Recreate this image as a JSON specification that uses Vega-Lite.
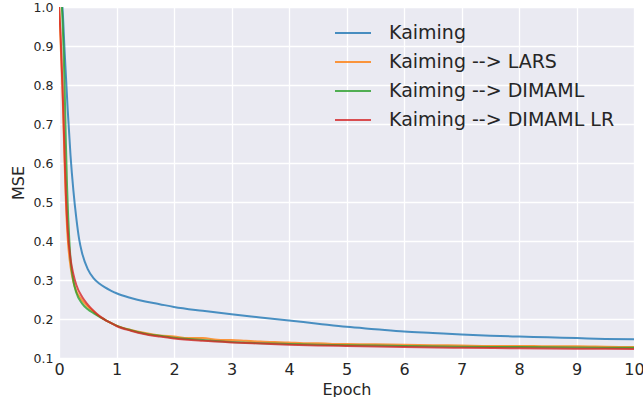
{
  "$schema": "https://vega.github.io/schema/vega-lite/v6.json",
  "autosize": {"type": "none"},
  "padding": {"left": 59, "top": 7, "right": 9, "bottom": 39},
  "width": 575,
  "height": 351,
  "background": "white",
  "config": {
    "font": "DejaVu Sans",
    "view": {"fill": "#EAEAF2", "stroke": null},
    "axis": {
      "domain": false,
      "ticks": false,
      "gridColor": "white",
      "gridWidth": 1.3,
      "gridOpacity": 1,
      "labelColor": "#262626",
      "titleColor": "#262626",
      "titleFontWeight": "normal",
      "labelFont": "DejaVu Sans",
      "titleFont": "DejaVu Sans"
    },
    "legend": {"labelFont": "DejaVu Sans"}
  },
  "data": {
    "values": [
      {"series": "Kaiming", "epoch": 0.03, "mse": 1.05},
      {"series": "Kaiming", "epoch": 0.06, "mse": 1.0},
      {"series": "Kaiming", "epoch": 0.1, "mse": 0.88},
      {"series": "Kaiming", "epoch": 0.15, "mse": 0.74},
      {"series": "Kaiming", "epoch": 0.2, "mse": 0.62},
      {"series": "Kaiming", "epoch": 0.25, "mse": 0.53},
      {"series": "Kaiming", "epoch": 0.3, "mse": 0.46},
      {"series": "Kaiming", "epoch": 0.35, "mse": 0.405},
      {"series": "Kaiming", "epoch": 0.4, "mse": 0.37},
      {"series": "Kaiming", "epoch": 0.5, "mse": 0.328},
      {"series": "Kaiming", "epoch": 0.6, "mse": 0.305},
      {"series": "Kaiming", "epoch": 0.7, "mse": 0.291},
      {"series": "Kaiming", "epoch": 0.8, "mse": 0.281},
      {"series": "Kaiming", "epoch": 0.9, "mse": 0.273},
      {"series": "Kaiming", "epoch": 1.0, "mse": 0.266},
      {"series": "Kaiming", "epoch": 1.25, "mse": 0.254},
      {"series": "Kaiming", "epoch": 1.5, "mse": 0.245},
      {"series": "Kaiming", "epoch": 1.75, "mse": 0.238},
      {"series": "Kaiming", "epoch": 2.0, "mse": 0.231},
      {"series": "Kaiming", "epoch": 2.5, "mse": 0.221},
      {"series": "Kaiming", "epoch": 3.0, "mse": 0.212},
      {"series": "Kaiming", "epoch": 3.5, "mse": 0.204},
      {"series": "Kaiming", "epoch": 4.0, "mse": 0.196},
      {"series": "Kaiming", "epoch": 4.5, "mse": 0.188},
      {"series": "Kaiming", "epoch": 5.0, "mse": 0.18},
      {"series": "Kaiming", "epoch": 5.5, "mse": 0.174},
      {"series": "Kaiming", "epoch": 6.0, "mse": 0.168},
      {"series": "Kaiming", "epoch": 6.5, "mse": 0.164},
      {"series": "Kaiming", "epoch": 7.0, "mse": 0.16},
      {"series": "Kaiming", "epoch": 7.5, "mse": 0.157},
      {"series": "Kaiming", "epoch": 8.0, "mse": 0.155},
      {"series": "Kaiming", "epoch": 8.5, "mse": 0.153},
      {"series": "Kaiming", "epoch": 9.0, "mse": 0.151},
      {"series": "Kaiming", "epoch": 9.5, "mse": 0.149},
      {"series": "Kaiming", "epoch": 10.0, "mse": 0.148},

      {"series": "Kaiming --> LARS", "epoch": 0.0, "mse": 1.02},
      {"series": "Kaiming --> LARS", "epoch": 0.03, "mse": 0.9},
      {"series": "Kaiming --> LARS", "epoch": 0.06, "mse": 0.79},
      {"series": "Kaiming --> LARS", "epoch": 0.08, "mse": 0.69},
      {"series": "Kaiming --> LARS", "epoch": 0.1, "mse": 0.59},
      {"series": "Kaiming --> LARS", "epoch": 0.12, "mse": 0.5},
      {"series": "Kaiming --> LARS", "epoch": 0.15, "mse": 0.41},
      {"series": "Kaiming --> LARS", "epoch": 0.2, "mse": 0.335},
      {"series": "Kaiming --> LARS", "epoch": 0.25, "mse": 0.295},
      {"series": "Kaiming --> LARS", "epoch": 0.3, "mse": 0.272},
      {"series": "Kaiming --> LARS", "epoch": 0.4, "mse": 0.248},
      {"series": "Kaiming --> LARS", "epoch": 0.5, "mse": 0.232},
      {"series": "Kaiming --> LARS", "epoch": 0.6, "mse": 0.219},
      {"series": "Kaiming --> LARS", "epoch": 0.7, "mse": 0.207},
      {"series": "Kaiming --> LARS", "epoch": 0.8, "mse": 0.198},
      {"series": "Kaiming --> LARS", "epoch": 0.9, "mse": 0.19},
      {"series": "Kaiming --> LARS", "epoch": 1.0, "mse": 0.183},
      {"series": "Kaiming --> LARS", "epoch": 1.25, "mse": 0.172},
      {"series": "Kaiming --> LARS", "epoch": 1.5, "mse": 0.164},
      {"series": "Kaiming --> LARS", "epoch": 1.75, "mse": 0.158},
      {"series": "Kaiming --> LARS", "epoch": 2.0, "mse": 0.155},
      {"series": "Kaiming --> LARS", "epoch": 2.25, "mse": 0.151},
      {"series": "Kaiming --> LARS", "epoch": 2.5, "mse": 0.151},
      {"series": "Kaiming --> LARS", "epoch": 2.75, "mse": 0.147},
      {"series": "Kaiming --> LARS", "epoch": 3.0, "mse": 0.146},
      {"series": "Kaiming --> LARS", "epoch": 3.25, "mse": 0.144},
      {"series": "Kaiming --> LARS", "epoch": 3.5, "mse": 0.142},
      {"series": "Kaiming --> LARS", "epoch": 3.75, "mse": 0.141},
      {"series": "Kaiming --> LARS", "epoch": 4.0, "mse": 0.14},
      {"series": "Kaiming --> LARS", "epoch": 4.25, "mse": 0.138},
      {"series": "Kaiming --> LARS", "epoch": 4.5, "mse": 0.138},
      {"series": "Kaiming --> LARS", "epoch": 4.75, "mse": 0.136},
      {"series": "Kaiming --> LARS", "epoch": 5.0, "mse": 0.136},
      {"series": "Kaiming --> LARS", "epoch": 5.5, "mse": 0.135},
      {"series": "Kaiming --> LARS", "epoch": 6.0, "mse": 0.134},
      {"series": "Kaiming --> LARS", "epoch": 6.5, "mse": 0.133},
      {"series": "Kaiming --> LARS", "epoch": 7.0, "mse": 0.132},
      {"series": "Kaiming --> LARS", "epoch": 7.5, "mse": 0.131},
      {"series": "Kaiming --> LARS", "epoch": 8.0, "mse": 0.131},
      {"series": "Kaiming --> LARS", "epoch": 8.5, "mse": 0.13},
      {"series": "Kaiming --> LARS", "epoch": 9.0, "mse": 0.13},
      {"series": "Kaiming --> LARS", "epoch": 9.5, "mse": 0.129},
      {"series": "Kaiming --> LARS", "epoch": 10.0, "mse": 0.128},

      {"series": "Kaiming --> DIMAML", "epoch": 0.03, "mse": 1.04},
      {"series": "Kaiming --> DIMAML", "epoch": 0.06, "mse": 0.97},
      {"series": "Kaiming --> DIMAML", "epoch": 0.08, "mse": 0.89},
      {"series": "Kaiming --> DIMAML", "epoch": 0.1, "mse": 0.78},
      {"series": "Kaiming --> DIMAML", "epoch": 0.12, "mse": 0.65},
      {"series": "Kaiming --> DIMAML", "epoch": 0.14, "mse": 0.54},
      {"series": "Kaiming --> DIMAML", "epoch": 0.16, "mse": 0.46},
      {"series": "Kaiming --> DIMAML", "epoch": 0.18, "mse": 0.4},
      {"series": "Kaiming --> DIMAML", "epoch": 0.2, "mse": 0.355},
      {"series": "Kaiming --> DIMAML", "epoch": 0.25, "mse": 0.298},
      {"series": "Kaiming --> DIMAML", "epoch": 0.3, "mse": 0.268},
      {"series": "Kaiming --> DIMAML", "epoch": 0.4, "mse": 0.24},
      {"series": "Kaiming --> DIMAML", "epoch": 0.5, "mse": 0.225},
      {"series": "Kaiming --> DIMAML", "epoch": 0.6, "mse": 0.215},
      {"series": "Kaiming --> DIMAML", "epoch": 0.7, "mse": 0.206},
      {"series": "Kaiming --> DIMAML", "epoch": 0.8, "mse": 0.198},
      {"series": "Kaiming --> DIMAML", "epoch": 0.9, "mse": 0.19},
      {"series": "Kaiming --> DIMAML", "epoch": 1.0, "mse": 0.183},
      {"series": "Kaiming --> DIMAML", "epoch": 1.25, "mse": 0.171},
      {"series": "Kaiming --> DIMAML", "epoch": 1.5, "mse": 0.162},
      {"series": "Kaiming --> DIMAML", "epoch": 1.75, "mse": 0.157},
      {"series": "Kaiming --> DIMAML", "epoch": 2.0, "mse": 0.152},
      {"series": "Kaiming --> DIMAML", "epoch": 2.5, "mse": 0.146},
      {"series": "Kaiming --> DIMAML", "epoch": 3.0, "mse": 0.141},
      {"series": "Kaiming --> DIMAML", "epoch": 3.5, "mse": 0.138},
      {"series": "Kaiming --> DIMAML", "epoch": 4.0, "mse": 0.136},
      {"series": "Kaiming --> DIMAML", "epoch": 4.5, "mse": 0.134},
      {"series": "Kaiming --> DIMAML", "epoch": 5.0, "mse": 0.133},
      {"series": "Kaiming --> DIMAML", "epoch": 6.0, "mse": 0.131},
      {"series": "Kaiming --> DIMAML", "epoch": 7.0, "mse": 0.129},
      {"series": "Kaiming --> DIMAML", "epoch": 8.0, "mse": 0.128},
      {"series": "Kaiming --> DIMAML", "epoch": 9.0, "mse": 0.127},
      {"series": "Kaiming --> DIMAML", "epoch": 10.0, "mse": 0.126},

      {"series": "Kaiming --> DIMAML LR", "epoch": 0.0, "mse": 1.0},
      {"series": "Kaiming --> DIMAML LR", "epoch": 0.03, "mse": 0.92},
      {"series": "Kaiming --> DIMAML LR", "epoch": 0.06, "mse": 0.8},
      {"series": "Kaiming --> DIMAML LR", "epoch": 0.08, "mse": 0.71},
      {"series": "Kaiming --> DIMAML LR", "epoch": 0.1, "mse": 0.61},
      {"series": "Kaiming --> DIMAML LR", "epoch": 0.12, "mse": 0.52},
      {"series": "Kaiming --> DIMAML LR", "epoch": 0.15, "mse": 0.43},
      {"series": "Kaiming --> DIMAML LR", "epoch": 0.2, "mse": 0.355},
      {"series": "Kaiming --> DIMAML LR", "epoch": 0.25, "mse": 0.315},
      {"series": "Kaiming --> DIMAML LR", "epoch": 0.3, "mse": 0.288},
      {"series": "Kaiming --> DIMAML LR", "epoch": 0.4, "mse": 0.257},
      {"series": "Kaiming --> DIMAML LR", "epoch": 0.5, "mse": 0.237},
      {"series": "Kaiming --> DIMAML LR", "epoch": 0.6, "mse": 0.221},
      {"series": "Kaiming --> DIMAML LR", "epoch": 0.7, "mse": 0.208},
      {"series": "Kaiming --> DIMAML LR", "epoch": 0.8, "mse": 0.198},
      {"series": "Kaiming --> DIMAML LR", "epoch": 0.9, "mse": 0.19},
      {"series": "Kaiming --> DIMAML LR", "epoch": 1.0, "mse": 0.182},
      {"series": "Kaiming --> DIMAML LR", "epoch": 1.25, "mse": 0.17},
      {"series": "Kaiming --> DIMAML LR", "epoch": 1.5, "mse": 0.161},
      {"series": "Kaiming --> DIMAML LR", "epoch": 1.75, "mse": 0.155},
      {"series": "Kaiming --> DIMAML LR", "epoch": 2.0, "mse": 0.15},
      {"series": "Kaiming --> DIMAML LR", "epoch": 2.5, "mse": 0.144},
      {"series": "Kaiming --> DIMAML LR", "epoch": 3.0, "mse": 0.14},
      {"series": "Kaiming --> DIMAML LR", "epoch": 3.5, "mse": 0.137},
      {"series": "Kaiming --> DIMAML LR", "epoch": 4.0, "mse": 0.134},
      {"series": "Kaiming --> DIMAML LR", "epoch": 4.5, "mse": 0.132},
      {"series": "Kaiming --> DIMAML LR", "epoch": 5.0, "mse": 0.131},
      {"series": "Kaiming --> DIMAML LR", "epoch": 6.0, "mse": 0.128},
      {"series": "Kaiming --> DIMAML LR", "epoch": 7.0, "mse": 0.126},
      {"series": "Kaiming --> DIMAML LR", "epoch": 8.0, "mse": 0.125},
      {"series": "Kaiming --> DIMAML LR", "epoch": 9.0, "mse": 0.124},
      {"series": "Kaiming --> DIMAML LR", "epoch": 10.0, "mse": 0.123}
    ]
  },
  "mark": {"type": "line", "strokeWidth": 2, "opacity": 0.8, "clip": true, "interpolate": "monotone"},
  "encoding": {
    "x": {
      "field": "epoch",
      "type": "quantitative",
      "scale": {"domain": [0, 10], "nice": false, "zero": false},
      "axis": {
        "values": [0, 1, 2, 3, 4, 5, 6, 7, 8, 9, 10],
        "labelFontSize": 16,
        "labelPadding": 3,
        "labelFlush": false,
        "title": "Epoch",
        "titleFontSize": 16,
        "titlePadding": 4
      }
    },
    "y": {
      "field": "mse",
      "type": "quantitative",
      "scale": {"domain": [0.1, 1.0], "nice": false, "zero": false},
      "axis": {
        "values": [0.1, 0.2, 0.3, 0.4, 0.5, 0.6, 0.7, 0.8, 0.9, 1.0],
        "format": ".1f",
        "labelFontSize": 12.5,
        "labelPadding": 6,
        "labelFlush": false,
        "title": "MSE",
        "titleFontSize": 16,
        "titlePadding": 7
      }
    },
    "color": {
      "field": "series",
      "type": "nominal",
      "sort": ["Kaiming", "Kaiming --> LARS", "Kaiming --> DIMAML", "Kaiming --> DIMAML LR"],
      "scale": {
        "domain": ["Kaiming", "Kaiming --> LARS", "Kaiming --> DIMAML", "Kaiming --> DIMAML LR"],
        "range": ["#1f77b4", "#ff7f0e", "#2ca02c", "#d62728"]
      },
      "legend": {
        "title": null,
        "orient": "none",
        "legendX": 275,
        "legendY": 7,
        "symbolType": "stroke",
        "symbolSize": 1296,
        "symbolStrokeWidth": 2,
        "symbolOpacity": 0.8,
        "labelFontSize": 19,
        "labelColor": "#262626",
        "labelOffset": 17,
        "labelLimit": 400,
        "rowPadding": 0,
        "padding": 0
      }
    }
  }
}
